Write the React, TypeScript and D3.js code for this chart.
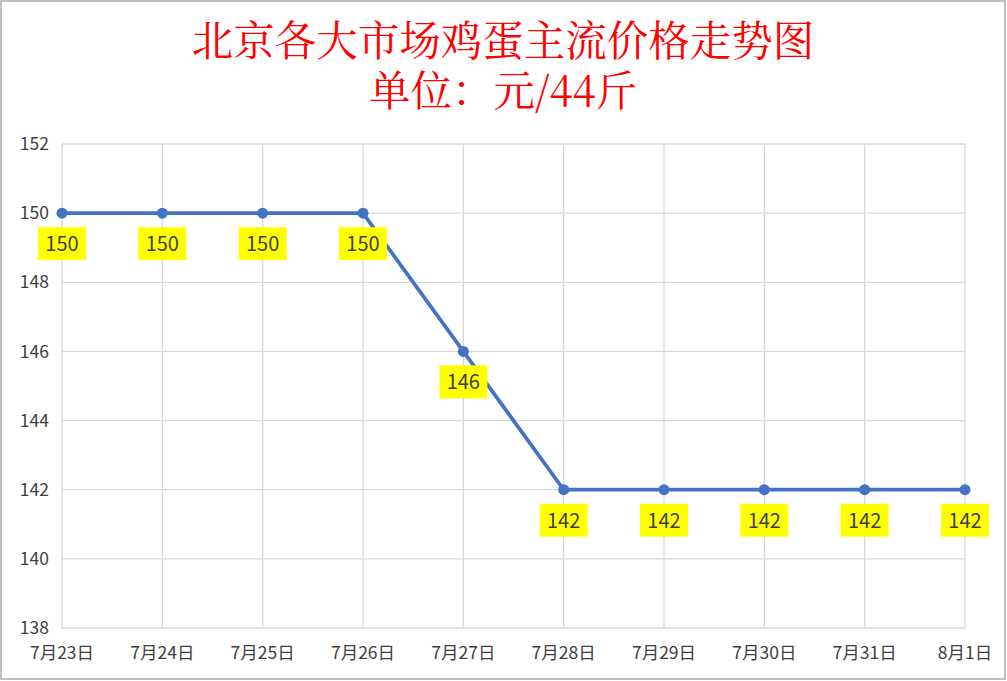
import React from "react";
import * as d3 from "d3";

const categories = ["7月23日", "7月24日", "7月25日", "7月26日", "7月27日", "7月28日", "7月29日", "7月30日", "7月31日", "8月1日"];
const prices = [150, 150, 150, 150, 146, 142, 142, 142, 142, 142];
const yTicks = [138, 140, 142, 144, 146, 148, 150, 152];
const titleLine1 = "北京各大市场鸡蛋主流价格走势图";
const titleLine2 = "单位：元/44斤";

const W = 1007;
const H = 681;
const left = 62, right = 965, top = 144, bottom = 628;

export default function App() {
  const x = d3.scalePoint<string>().domain(categories).range([left, right]);
  const y = d3.scaleLinear().domain([138, 152]).range([bottom, top]);
  const line = d3
    .line<number>()
    .x((_, i) => x(categories[i]) as number)
    .y((d) => y(d));
  const font = "'Noto Sans CJK SC', 'Noto Sans', sans-serif";
  const serif = "'Noto Serif CJK SC', 'Noto Sans CJK SC', serif";
  return (
    <svg
      width={W}
      height={H}
      style={{ position: "absolute", left: 0, top: 0, background: "#fff" }}
    >
      <rect x={1} y={1} width={W - 3} height={H - 3} fill="#fff" stroke="#bfbfbf" strokeWidth={2} />
      <text x={503} y={56} textAnchor="middle" fill="#ff0000" fontSize={41.5} fontFamily={serif}>
        {titleLine1}
      </text>
      <text x={503} y={106} textAnchor="middle" fill="#ff0000" fontSize={41.5} fontFamily={serif}>
        {titleLine2}
      </text>
      {yTicks.map((t) => (
        <g key={t}>
          <line x1={left} x2={right} y1={y(t)} y2={y(t)} stroke="#d9d9d9" strokeWidth={1.3} />
          <text x={49} y={y(t)} dy="0.35em" textAnchor="end" fill="#404040" fontSize={17.5} fontFamily={font}>
            {t}
          </text>
        </g>
      ))}
      {categories.map((c) => (
        <g key={c}>
          <line x1={x(c)} x2={x(c)} y1={top} y2={bottom} stroke="#d9d9d9" strokeWidth={1.3} />
          <text x={x(c)} y={659} textAnchor="middle" fill="#404040" fontSize={17.5} fontFamily={font}>
            {c}
          </text>
        </g>
      ))}
      <path d={line(prices) || ""} fill="none" stroke="#4472c4" strokeWidth={3.7} strokeLinejoin="round" />
      {prices.map((v, i) => (
        <circle key={i} cx={x(categories[i])} cy={y(v)} r={5.5} fill="#4472c4" />
      ))}
      {prices.map((v, i) => {
        const cx = x(categories[i]) as number;
        const cy = y(v);
        return (
          <g key={"l" + i}>
            <rect x={cx - 24} y={cy + 14} width={48} height={33} fill="#ffff00" />
            <text x={cx} y={cy + 31} dy="0.35em" textAnchor="middle" fill="#404040" fontSize={20} fontFamily={font}>
              {v}
            </text>
          </g>
        );
      })}
    </svg>
  );
}
